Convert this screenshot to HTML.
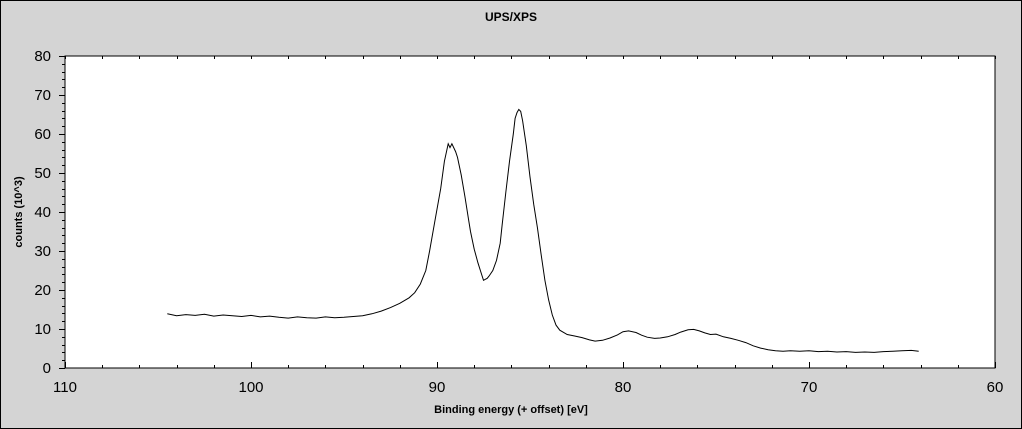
<!DOCTYPE html>
<html><head><meta charset="utf-8"><style>
html,body{margin:0;padding:0;background:#d4d4d4;}
svg{display:block;font-family:"Liberation Sans",sans-serif;}
</style></head><body>
<svg id="chart" width="1022" height="429" xmlns="http://www.w3.org/2000/svg">
<rect x="0.5" y="0.5" width="1021" height="428" fill="#d4d4d4" stroke="#000"/>
<text x="511" y="21" text-anchor="middle" font-size="12" font-weight="bold">UPS/XPS</text>
<rect x="65" y="56" width="930" height="312" fill="#fff" stroke="#000"/>
<text x="511" y="413" text-anchor="middle" font-size="11" font-weight="bold">Binding energy (+ offset) [eV]</text>
<text transform="translate(22,212) rotate(-90)" text-anchor="middle" font-size="11" font-weight="bold">counts (10^3)</text>
<g id="axes"></g>
<path id="series" fill="none" stroke="#000" stroke-width="1"/>
</svg>
<script>
const energies=[104.5,104.0,103.5,103.0,102.5,102.0,101.5,101.0,100.5,100.0,99.5,99.0,98.5,98.0,97.5,97.0,96.5,96.0,95.5,95.0,94.5,94.0,93.5,93.0,92.5,92.0,91.5,91.2,90.9,90.6,90.4,90.1,89.8,89.6,89.4,89.3,89.2,89.0,88.9,88.7,88.5,88.3,88.2,88.0,87.8,87.6,87.5,87.3,87.2,87.0,86.8,86.6,86.5,86.3,86.1,85.9,85.8,85.7,85.6,85.5,85.4,85.2,85.0,84.8,84.6,84.4,84.2,84.0,83.8,83.6,83.4,83.0,82.6,82.2,81.8,81.5,81.1,80.7,80.3,80.0,79.7,79.3,79.0,78.7,78.3,78.0,77.6,77.2,76.9,76.5,76.2,75.9,75.6,75.3,75.0,74.6,74.2,73.8,73.4,73.0,72.6,72.2,71.8,71.4,71.0,70.5,70.0,69.5,69.0,68.5,68.0,67.5,67.0,66.5,66.0,65.5,65.0,64.5,64.1];
const counts=[13.9,13.4,13.7,13.5,13.8,13.3,13.6,13.4,13.2,13.5,13.1,13.3,13.0,12.8,13.1,12.9,12.8,13.1,12.9,13.0,13.2,13.4,13.9,14.6,15.5,16.6,18.0,19.3,21.5,25.0,30.0,38.0,46.0,53.0,57.5,56.5,57.5,55.5,54.0,49.5,44.0,38.0,35.0,30.5,27.0,24.0,22.5,23.0,23.6,25.0,27.6,32.0,36.6,45.0,53.0,60.0,64.0,65.5,66.3,65.8,63.4,57.0,49.0,42.0,36.0,29.0,22.5,17.5,13.6,11.0,9.7,8.6,8.2,7.8,7.2,6.9,7.1,7.7,8.5,9.3,9.5,9.1,8.4,7.9,7.6,7.7,8.0,8.6,9.2,9.8,9.9,9.5,9.0,8.6,8.7,8.0,7.6,7.1,6.5,5.7,5.1,4.7,4.4,4.3,4.4,4.3,4.4,4.2,4.3,4.1,4.2,4.0,4.1,4.0,4.2,4.3,4.4,4.5,4.3];
const xTicks=[110,100,90,80,70,60];
const yTicks=[0,10,20,30,40,50,60,70,80];
const X0=65,X1=995,Y0=368,Y1=56;
const xs=e=>X0+(110-e)/(110-60)*(X1-X0);
const ys=v=>Y0-(v/80)*(Y0-Y1);
const NS="http://www.w3.org/2000/svg";
const axes=document.getElementById('axes');
function line(x1,y1,x2,y2,name){const l=document.createElementNS(NS,'line');l.setAttribute('x1',x1);l.setAttribute('y1',y1);l.setAttribute('x2',x2);l.setAttribute('y2',y2);l.setAttribute('stroke','#000');


axes.appendChild(l);}
function txt(x,y,s,anchor,name){const t=document.createElementNS(NS,'text');t.setAttribute('x',x);t.setAttribute('y',y);t.setAttribute('text-anchor',anchor);t.setAttribute('font-size','15');t.setAttribute('fill','#000');t.textContent=s;


axes.appendChild(t);}
for(let e=110;e>=60;e-=2){const x=Math.round(xs(e))+0.5;const major=e%10===0;
line(x,Y0,x,Y0-(major?6:3),'x-tick');
line(x,Y1,x,Y1+3,'x-tick-top');}
xTicks.forEach(e=>txt(xs(e),392,String(e),'middle','x-tick-label'));
for(let v=0;v<=80;v+=2){const y=Math.round(ys(v))+0.5;const major=v%10===0;
line(X0,y,X0-(major?6:3),y,'y-tick');}
yTicks.forEach(v=>txt(51,ys(v)+5,String(v),'end','y-tick-label'));
document.getElementById('series').setAttribute('d',energies.map((e,i)=>(i?'L':'M')+xs(e).toFixed(1)+','+ys(counts[i]).toFixed(1)).join(' '));
</script>
</body></html>
